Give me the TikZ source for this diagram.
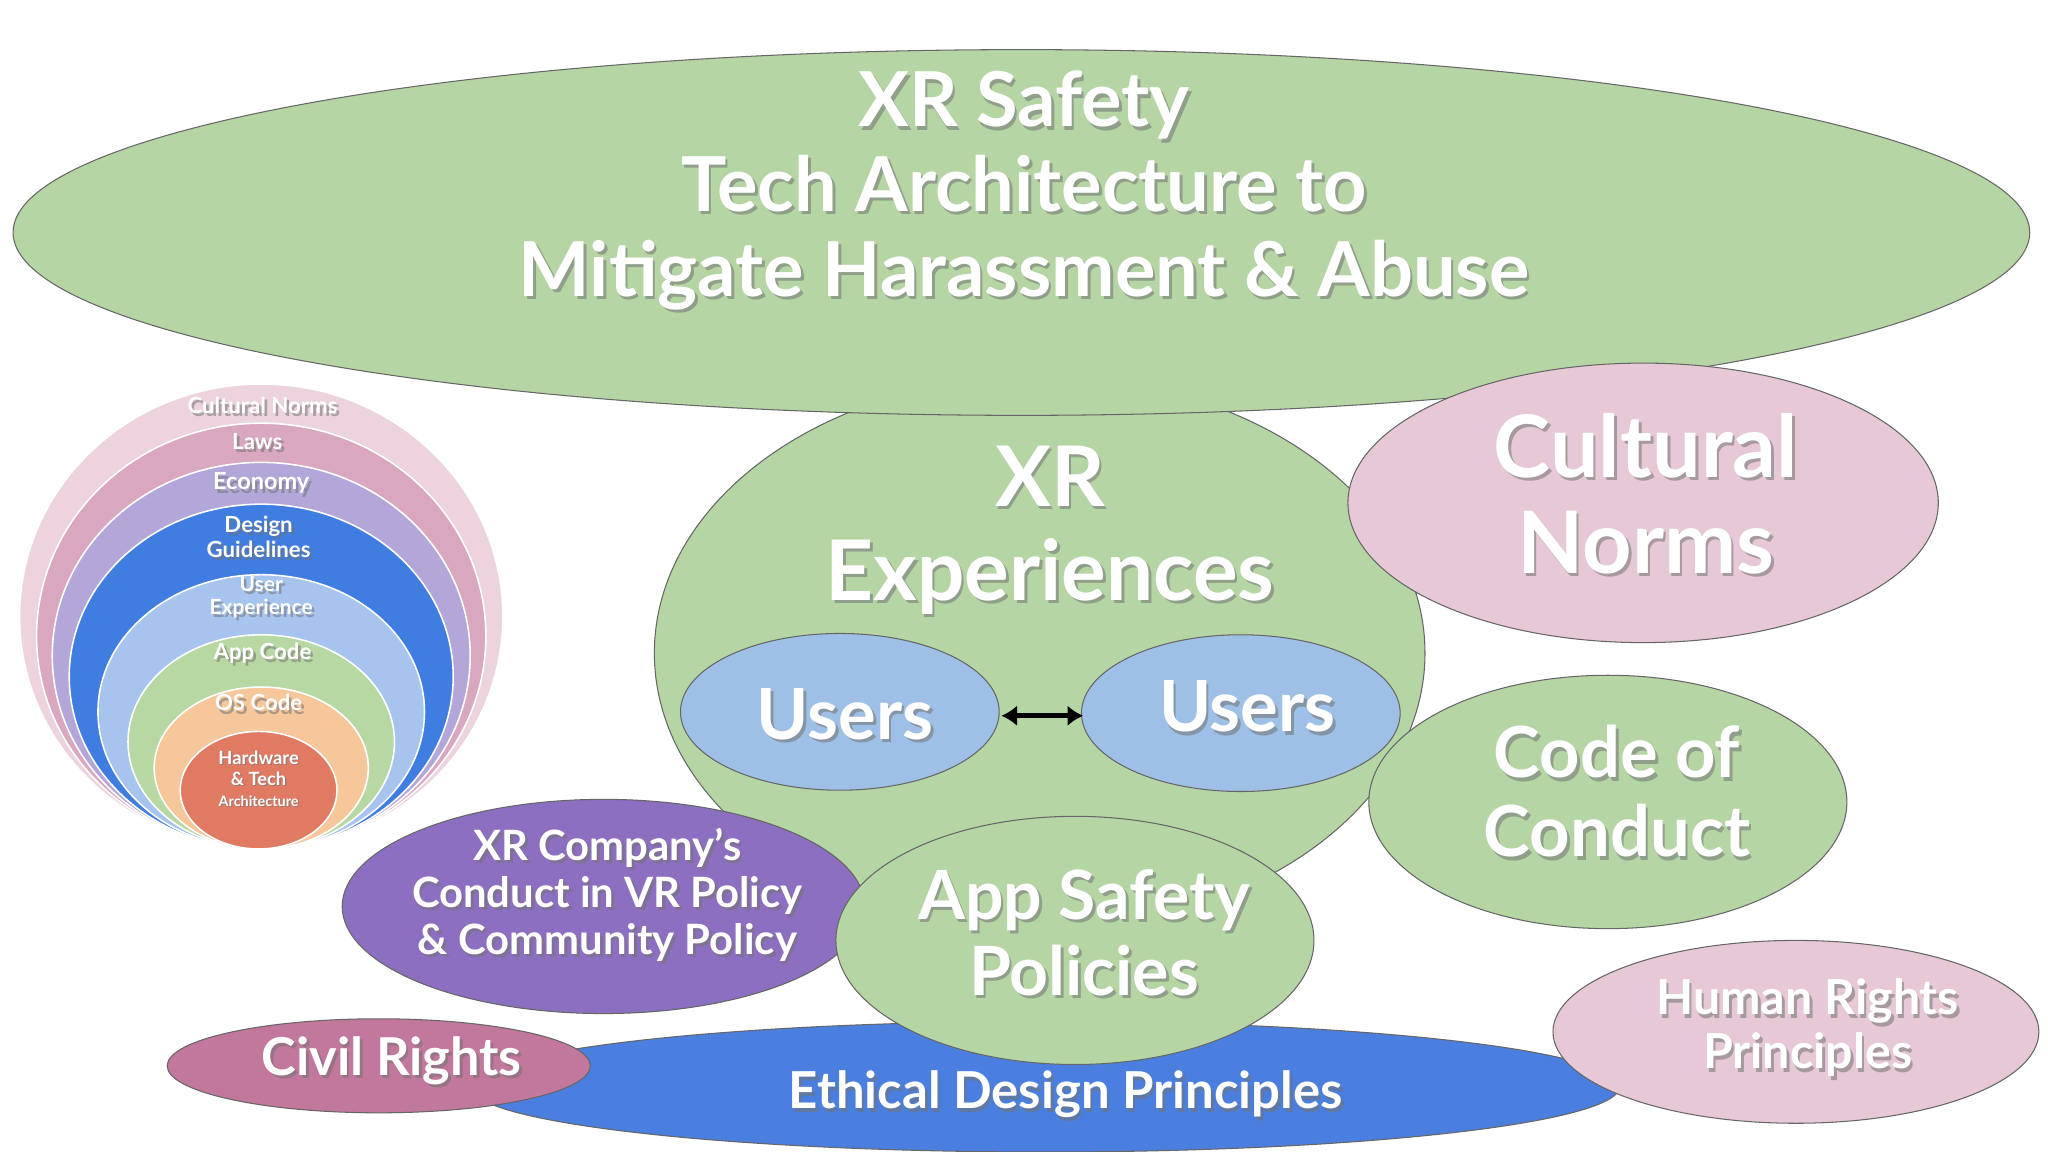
\documentclass[tikz,border=0pt]{standalone}
\usepackage{fontspec}
\setmainfont{Lato}
\usetikzlibrary{arrows.meta}
\begin{document}
\begin{tikzpicture}[x=1pt,y=-1pt,
  shp/.style={draw=black!60,line width=0.8pt},
  ring/.style={draw=white,line width=1.2pt},
  lab/.style={text=white,align=center,inner sep=0pt},
  shd/.style={lab,text=black!55,opacity=.55}]
\newcommand\shlab[5]{\node[shd,font=\bfseries\fontsize{#4}{\the\dimexpr#4pt*112/100\relax}\selectfont] at (#2,#3) [xshift=2pt,yshift=-2.5pt] {#5};
  \node[lab,font=\bfseries\fontsize{#4}{\the\dimexpr#4pt*112/100\relax}\selectfont] (#1) at (#2,#3) {#5};}
\useasboundingbox[fill=white] (0,0) rectangle (1568,882);
% nested circles
\draw[ring,fill={rgb,255:red,236;green,211;blue,222}] (200,472) ellipse [x radius=185,y radius=178];
\draw[ring,fill={rgb,255:red,217;green,167;blue,192}] (200,487) ellipse [x radius=172,y radius=163];
\draw[ring,fill={rgb,255:red,179;green,166;blue,217}] (200,502) ellipse [x radius=160,y radius=148];
\draw[ring,fill={rgb,255:red,63;green,125;blue,224}] (200,518) ellipse [x radius=147,y radius=132];
\draw[ring,fill={rgb,255:red,167;green,196;blue,238}] (200,545) ellipse [x radius=125,y radius=105];
\draw[ring,fill={rgb,255:red,184;green,216;blue,163}] (200,568) ellipse [x radius=102,y radius=82];
\draw[ring,fill={rgb,255:red,246;green,199;blue,155}] (200,588) ellipse [x radius=82,y radius=62];
\draw[ring,fill={rgb,255:red,224;green,122;blue,98}] (198,605) ellipse [x radius=60,y radius=45];
\shlab{c1}{201}{310}{17}{Cultural Norms}
\shlab{c2}{197}{338}{17}{Laws}
\shlab{c3}{200}{370}{18}{Economy}
\shlab{c4}{198}{411}{17}{Design\\Guidelines}
\shlab{c5}{200}{457}{16}{User\\Experience}
\shlab{c6}{201}{500}{17}{App Code}
\shlab{c7}{198}{538}{17}{OS Code}
\node[shd,font=\bfseries\fontsize{14}{16}\selectfont] at (198,596) [xshift=1pt,yshift=-1pt] {Hardware\\\& Tech\\{\fontsize{11}{13}\selectfont Architecture}};
\node[lab,font=\bfseries\fontsize{14}{16}\selectfont] (c8) at (198,596) {Hardware\\\& Tech\\{\fontsize{11}{13}\selectfont Architecture}};
% main shapes
\definecolor{gr}{RGB}{181,213,165}
\definecolor{pk}{RGB}{230,200,214}
\draw[shp,fill=gr] (796,500) ellipse [x radius=295,y radius=212];
\draw[shp,fill=gr] (782,178) ellipse [x radius=772,y radius=140];
\draw[shp,fill=pk] (1258,385) ellipse [x radius=226,y radius=107];
\draw[shp,fill=gr] (1231,614) ellipse [x radius=183,y radius=97];
\draw[shp,fill={rgb,255:red,74;green,127;blue,224}] (800,832) ellipse [x radius=440,y radius=50];
\draw[shp,fill=pk] (1375,790) ellipse [x radius=186,y radius=70];
\draw[shp,fill={rgb,255:red,194;green,119;blue,156}] (290,816) ellipse [x radius=162,y radius=36];
\draw[shp,fill={rgb,255:red,140;green,111;blue,192}] (462,694) ellipse [x radius=200,y radius=82];
\draw[shp,fill=gr] (823,720) ellipse [x radius=183,y radius=95];
\draw[shp,fill={rgb,255:red,159;green,192;blue,230}] (643,545) ellipse [x radius=122,y radius=60];
\draw[shp,fill={rgb,255:red,159;green,192;blue,230}] (950,546) ellipse [x radius=122,y radius=60];
\shlab{t}{784}{146}{58}{XR Safety\\Tech Architecture to\\Mitigate Harassment \& Abuse}
\shlab{xr}{804}{406}{64}{XR\\Experiences}
\shlab{cn}{1260}{378}{66}{Cultural\\Norms}
\shlab{cc}{1238}{606}{54}{Code of\\Conduct}
\shlab{u1}{647}{547}{54}{Users}
\shlab{u2}{955}{541}{54}{Users}
\node[inner sep=0pt] (a1) at (766,548) {};
\node[inner sep=0pt] (a2) at (830,548) {};
\draw[line width=4pt,{Latex[length=12pt,width=16pt]}-{Latex[length=12pt,width=16pt]}] (a1) -- (a2);
\shlab{xc}{465}{685}{32}{XR Company's\\Conduct in VR Policy\\\& Community Policy}
\shlab{as}{830}{714}{52}{App Safety\\Policies}
\shlab{cr}{300}{812}{40}{Civil Rights}
\shlab{ed}{816}{838}{39}{Ethical Design Principles}
\shlab{hr}{1384}{787}{37}{Human Rights\\Principles}
\end{tikzpicture}
\end{document}
